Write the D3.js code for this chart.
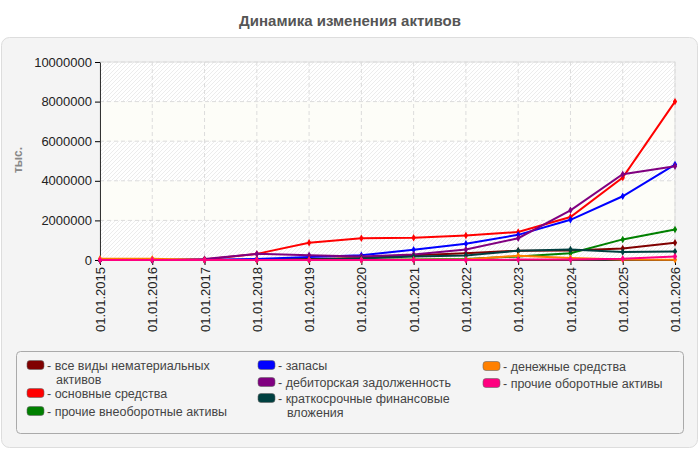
<!DOCTYPE html>
<html>
<head>
<meta charset="utf-8">
<script src="https://cdn.jsdelivr.net/npm/d3@7"></script>
<style>
  body { margin: 0; background: #fff; }
  text { font-family: "Liberation Sans", Arial, sans-serif; }
</style>
</head>
<body>
<script>
// chart data
let dates = ["01.01.2015", "01.01.2016", "01.01.2017", "01.01.2018", "01.01.2019", "01.01.2020",
    "01.01.2021", "01.01.2022", "01.01.2023", "01.01.2024", "01.01.2025", "01.01.2026"];
let seriesNames = ["все виды нематериальных активов", "основные средства", "прочие внеоборотные активы",
    "запасы", "дебиторская задолженность", "краткосрочные финансовые вложения",
    "денежные средства", "прочие оборотные активы"];
let seriesColors = ["#800000", "#ff0000", "#008000", "#0000ff", "#800080", "#004040", "#ff8000", "#ff0080"];
let intangible = [0, 0, 0, 30000, 50000, 100000, 240000, 340000, 470000, 480000, 580000, 870000];
let fixedAssets = [0, 0, 20000, 310000, 870000, 1100000, 1120000, 1240000, 1410000, 2170000, 4160000, 8000000];
let otherNonCurrent = [0, 0, 0, 0, 0, 10000, 20000, 50000, 180000, 340000, 1040000, 1540000];
let inventory = [0, 0, 0, 50000, 150000, 240000, 520000, 820000, 1270000, 2030000, 3220000, 4820000];
let receivables = [0, 0, 50000, 310000, 240000, 180000, 280000, 530000, 1100000, 2510000, 4330000, 4730000];
let shortInvest = [0, 0, 0, 0, 20000, 80000, 180000, 230000, 470000, 530000, 400000, 430000];
let cash = [60000, 60000, 0, 0, 0, 0, 10000, 20000, 220000, 100000, 20000, 10000];
let otherCurrent = [0, 0, 0, 0, 0, 0, 0, 0, 20000, 30000, 60000, 180000];
let yTicks = [0, 2000000, 4000000, 6000000, 8000000, 10000000];

function main(){
    let width = 700, height = 450;
    let svg = d3.select("body").append("svg")
        .attr("width", width)
        .attr("height", height);

    let series = [intangible, fixedAssets, otherNonCurrent, inventory, receivables, shortInvest, cash, otherCurrent];

    // hatch pattern for plot bands
    let defs = svg.append("defs");
    let pat = defs.append("pattern")
        .attr("id", "hatch")
        .attr("patternUnits", "userSpaceOnUse")
        .attr("width", 4).attr("height", 4);
    pat.append("rect").attr("width", 4).attr("height", 4).attr("fill", "#ffffff");
    pat.append("path")
        .attr("d", "M-1,1 l2,-2 M0,4 l4,-4 M3,5 l2,-2")
        .attr("stroke", "#ececec")
        .attr("stroke-width", 1);

    svg.append("text")
        .attr("x", 350).attr("y", 26)
        .attr("text-anchor", "middle")
        .attr("font-size", 15)
        .attr("font-weight", "bold")
        .attr("fill", "#555")
        .text("Динамика изменения активов");

    svg.append("rect")
        .attr("x", 1.5).attr("y", 37.5)
        .attr("width", 696).attr("height", 410)
        .attr("rx", 8)
        .attr("fill", "#f4f4f4")
        .attr("stroke", "#dddddd");

    let left = 100, right = 675, top = 62, bottom = 260;

    let xScale = d3.scalePoint().domain(dates).range([left, right]);
    let yScale = d3.scaleLinear().domain([0, 10000000]).range([bottom, top]);

    // alternating bands
    for (let i = 0; i < yTicks.length - 1; i++) {
        svg.append("rect")
            .attr("x", left)
            .attr("y", yScale(yTicks[i + 1]))
            .attr("width", right - left)
            .attr("height", yScale(yTicks[i]) - yScale(yTicks[i + 1]))
            .attr("fill", i % 2 === 0 ? "url(#hatch)" : "#fdfdf8");
    }
    svg.append("rect")
        .attr("x", left).attr("y", top)
        .attr("width", right - left).attr("height", bottom - top)
        .attr("fill", "none")
        .attr("stroke", "#dddddd");

    // grid
    svg.append("g").selectAll("line")
        .data(dates.slice(1))
        .enter().append("line")
        .attr("x1", d => xScale(d)).attr("x2", d => xScale(d))
        .attr("y1", top).attr("y2", bottom)
        .attr("stroke", "#dcdcdc")
        .attr("stroke-dasharray", "4,3");
    svg.append("g").selectAll("line")
        .data(yTicks.slice(1))
        .enter().append("line")
        .attr("x1", left).attr("x2", right)
        .attr("y1", d => yScale(d)).attr("y2", d => yScale(d))
        .attr("stroke", "#dcdcdc")
        .attr("stroke-dasharray", "4,3");

    // axes
    let yAxis = svg.append("g")
        .attr("transform", "translate(" + left + ",0)")
        .call(d3.axisLeft(yScale).tickValues(yTicks).tickFormat(d3.format("d")).tickSize(5).tickSizeOuter(0));
    yAxis.selectAll("text").attr("font-size", 13).attr("fill", "#222").attr("font-family", "Liberation Sans, Arial, sans-serif");
    yAxis.select(".domain").attr("stroke", "#333");

    let xAxis = svg.append("g")
        .attr("transform", "translate(0," + bottom + ")")
        .call(d3.axisBottom(xScale).tickSize(5).tickSizeOuter(0));
    xAxis.select(".domain").attr("stroke", "#333");
    xAxis.selectAll("text")
        .attr("font-size", 13)
        .attr("fill", "#222")
        .attr("font-family", "Liberation Sans, Arial, sans-serif")
        .attr("transform", "rotate(-90)")
        .attr("text-anchor", "end")
        .attr("x", -7)
        .attr("y", 0)
        .attr("dy", "0.35em");

    svg.append("text")
        .attr("transform", "translate(22,160) rotate(-90)")
        .attr("text-anchor", "middle")
        .attr("font-size", 12)
        .attr("font-weight", "bold")
        .attr("fill", "#888")
        .text("тыс.");

    // lines
    let line = d3.line()
        .x((d, i) => xScale(dates[i]))
        .y(d => yScale(d));

    series.forEach(function(values, k){
        let g = svg.append("g");
        g.append("path")
            .datum(values)
            .attr("d", line)
            .attr("fill", "none")
            .attr("stroke", seriesColors[k])
            .attr("stroke-width", 2);
        g.selectAll("path.m")
            .data(values)
            .enter().append("path")
            .attr("class", "m")
            .attr("d", d3.symbol().type(d3.symbolDiamond).size(16))
            .attr("transform", (d, i) => "translate(" + xScale(dates[i]) + "," + yScale(d) + ")")
            .attr("fill", seriesColors[k]);
    });

    // legend
    svg.append("rect")
        .attr("x", 16.5).attr("y", 351.5)
        .attr("width", 667).attr("height", 82)
        .attr("rx", 4)
        .attr("fill", "none")
        .attr("stroke", "#aaaaaa");

    let legendItems = [
        {x: 27, y: 365, lines: ["все виды нематериальных", "активов"]},
        {x: 27, y: 393, lines: ["основные средства"]},
        {x: 27, y: 411, lines: ["прочие внеоборотные активы"]},
        {x: 258, y: 365, lines: ["запасы"]},
        {x: 258, y: 382, lines: ["дебиторская задолженность"]},
        {x: 258, y: 398, lines: ["краткосрочные финансовые", "вложения"]},
        {x: 483, y: 366, lines: ["денежные средства"]},
        {x: 483, y: 383, lines: ["прочие оборотные активы"]}
    ];

    legendItems.forEach(function(item, k){
        let g = svg.append("g").attr("transform", "translate(" + item.x + "," + item.y + ")");
        g.append("rect")
            .attr("x", 0).attr("y", -4.5)
            .attr("width", 17).attr("height", 9)
            .attr("rx", 3)
            .attr("fill", seriesColors[k])
            .attr("stroke", "#666")
            .attr("stroke-width", 0.6);
        let t = g.append("text")
            .attr("x", 20).attr("y", 4.5)
            .attr("font-size", 12.5)
            .attr("fill", "#444");
        item.lines.forEach(function(s, j){
            t.append("tspan")
                .attr("x", j === 0 ? 20 : 29)
                .attr("dy", j === 0 ? 0 : 14.5)
                .text(j === 0 ? "- " + s : s);
        });
    });
}

main();
</script>
</body>
</html>
